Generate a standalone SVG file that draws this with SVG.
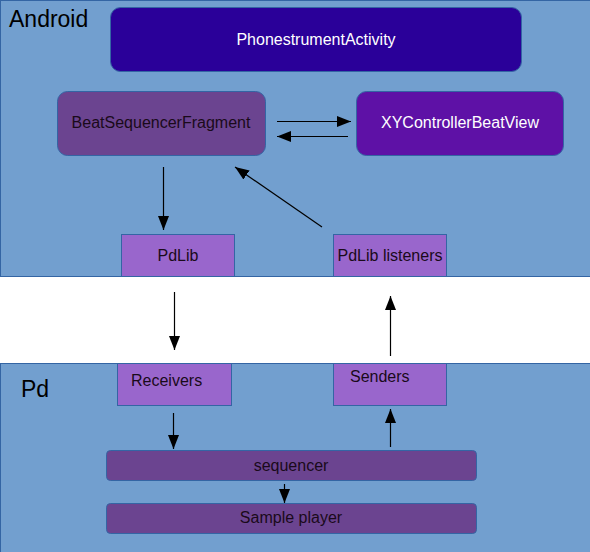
<svg xmlns="http://www.w3.org/2000/svg" width="590" height="552" viewBox="0 0 590 552">
<defs>
<marker id="ah" markerWidth="14" markerHeight="11" refX="14" refY="5.5" orient="auto" markerUnits="userSpaceOnUse">
<path d="M0,0 L14,5.5 L0,11 Z" fill="#000"/>
</marker>
<style>
.area{fill:#729fcf;stroke:#3465a4;stroke-width:1}
.lbl{font-family:"Liberation Sans",Arial,sans-serif;font-size:16px;fill:#1a0a1a}
.lblw{font-family:"Liberation Sans",Arial,sans-serif;font-size:16px;fill:#ffffff}
.big{font-family:"Liberation Sans",Arial,sans-serif;font-size:23px;fill:#000}
.sq{fill:#9966cc;stroke:#3465a4;stroke-width:1}
.dk{fill:#6b4490;stroke:#3465a4;stroke-width:1}
.conn line{stroke:#000;stroke-width:1.2;marker-end:url(#ah)}
</style>
</defs>
<rect width="590" height="552" fill="#ffffff"/>
<g id="android">
<rect class="area" x="0.5" y="0.5" width="590" height="276"/>
<text class="big" x="9" y="27">Android</text>
</g>
<g id="pd">
<rect class="area" x="0.5" y="363.5" width="590" height="190"/>
<text class="big" x="21" y="397">Pd</text>
</g>
<g id="phonestrumentActivity">
<rect x="110.5" y="7.5" width="411" height="64" rx="10" fill="#2a0099" stroke="#3465a4"/>
<text class="lblw" x="316" y="45" text-anchor="middle">PhonestrumentActivity</text>
</g>
<g id="beatSequencerFragment">
<rect class="dk" x="57.5" y="91.5" width="208" height="64" rx="10"/>
<text class="lbl" x="161" y="128" text-anchor="middle">BeatSequencerFragment</text>
</g>
<g id="xyControllerBeatView">
<rect x="356.5" y="91.5" width="207" height="64" rx="10" fill="#5e11a6" stroke="#3465a4"/>
<text class="lblw" x="460" y="128" text-anchor="middle">XYControllerBeatView</text>
</g>
<g id="pdlib">
<rect class="sq" x="121.5" y="234.5" width="113" height="42"/>
<text class="lbl" x="178" y="261" text-anchor="middle">PdLib</text>
</g>
<g id="pdlibListeners">
<rect class="sq" x="333.5" y="234.5" width="113" height="42"/>
<text class="lbl" x="390" y="261" text-anchor="middle">PdLib listeners</text>
</g>
<g id="receivers">
<rect class="sq" x="117.5" y="363.5" width="114" height="42"/>
<text class="lbl" x="131" y="386">Receivers</text>
</g>
<g id="senders">
<rect class="sq" x="333.5" y="363.5" width="113" height="42"/>
<text class="lbl" x="350" y="382">Senders</text>
</g>
<g id="sequencer">
<rect class="dk" x="106.5" y="450.5" width="370" height="30" rx="4"/>
<text class="lbl" x="291" y="471" text-anchor="middle">sequencer</text>
</g>
<g id="samplePlayer">
<rect class="dk" x="106.5" y="503.5" width="370" height="30" rx="4"/>
<text class="lbl" x="291" y="523" text-anchor="middle">Sample player</text>
</g>
<g class="conn" id="connectors">
<line x1="277" y1="121.5" x2="351" y2="121.5"/>
<line x1="348" y1="136.5" x2="277" y2="136.5"/>
<line x1="163.5" y1="167" x2="163.5" y2="230"/>
<line x1="322" y1="227" x2="235" y2="167"/>
<line x1="174.5" y1="292" x2="174.5" y2="350"/>
<line x1="390.5" y1="356" x2="390.5" y2="296"/>
<line x1="173.5" y1="413" x2="173.5" y2="449"/>
<line x1="390.5" y1="447" x2="390.5" y2="409"/>
<line x1="284.5" y1="484" x2="284.5" y2="503"/>
</g>
</svg>
